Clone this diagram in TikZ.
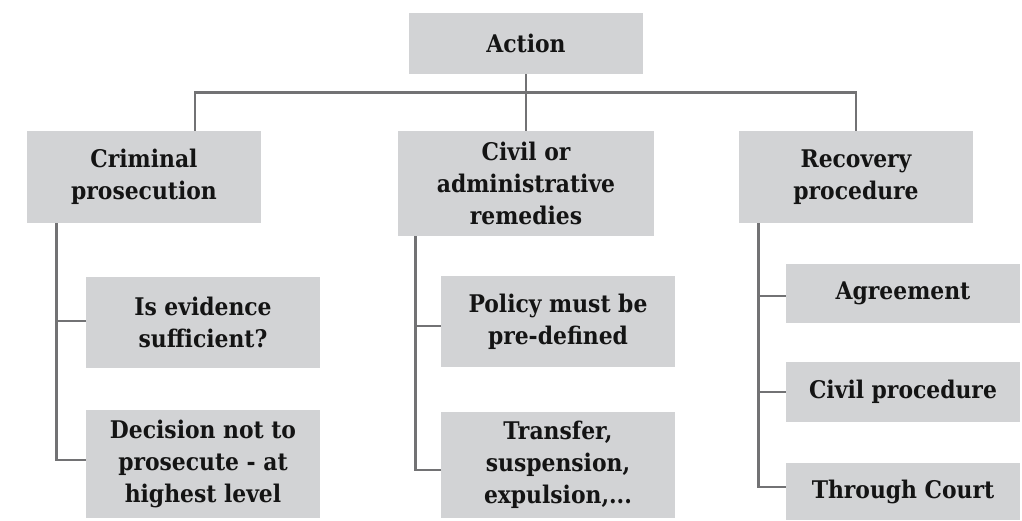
\documentclass[tikz,border=0pt]{standalone}
\usepackage{fontspec}
\setmainfont{DejaVu Serif Condensed}
\usetikzlibrary{calc}
\definecolor{boxfill}{HTML}{D2D3D5}
\definecolor{linkgray}{HTML}{727274}
\begin{document}
\begin{tikzpicture}[x=1pt,y=1pt,
  box/.style={fill=boxfill, inner sep=0pt, minimum width=234pt,
    align=center, font=\fontsize{24.3}{32}\selectfont\bfseries, text=black!92},
  link/.style={draw=linkgray, line width=2.8pt, line join=miter}]
\useasboundingbox (0,0) rectangle (1022,-520);

% top level
\node[box, minimum height=61pt] (action) at (526,-43.5) {Action};

% second level
\node[box, minimum height=92pt] (crim) at (144,-177) {Criminal\\prosecution};
\node[box, minimum width=256pt, minimum height=105pt] (civil) at (526,-183.5) {Civil or\\administrative\\remedies};
\node[box, minimum height=92pt] (recov) at (856,-177) {Recovery\\procedure};

% criminal branch
\node[box, minimum height=91pt] (evid) at (203,-322.5) {Is evidence\\sufficient?};
\node[box, minimum height=108pt] (decis) at (203,-464) {Decision not to\\prosecute - at\\highest level};

% civil / administrative branch
\node[box, minimum height=91pt] (policy) at (558,-321.5) {Policy must be\\pre-defined};
\node[box, minimum height=106pt] (transf) at (558,-465) {Transfer,\\suspension,\\expulsion,...};

% recovery branch
\node[box, minimum height=59pt] (agree) at (903,-293.5) {Agreement};
\node[box, minimum height=60pt] (civproc) at (903,-392) {Civil procedure};
\node[box, minimum height=57pt] (court) at (903,-491.5) {Through Court};

% bus under the top node
\coordinate (busL) at ([xshift=51pt]crim.north);
\draw[link] (action.south) -- (civil.north);
\draw[link] (busL) -- ++(0,38) -| (recov.north);

% criminal children
\coordinate (crimDrop) at ([xshift=30pt]crim.south west);
\draw[link] (crimDrop) |- ([yshift=1.5pt]evid.west);
\draw[link] (crimDrop) |- ([yshift=4pt]decis.west);

% civil children
\coordinate (civDrop) at ([xshift=18pt]civil.south west);
\draw[link] (civDrop) |- ([yshift=-4.5pt]policy.west);
\draw[link] (civDrop) |- ([yshift=-5pt]transf.west);

% recovery children
\coordinate (recDrop) at ([xshift=20pt]recov.south west);
\draw[link] (recDrop) |- ([yshift=-2.5pt]agree.west);
\draw[link] (recDrop) |- (civproc.west);
\draw[link] (recDrop) |- ([yshift=4.5pt]court.west);
\end{tikzpicture}
\end{document}
